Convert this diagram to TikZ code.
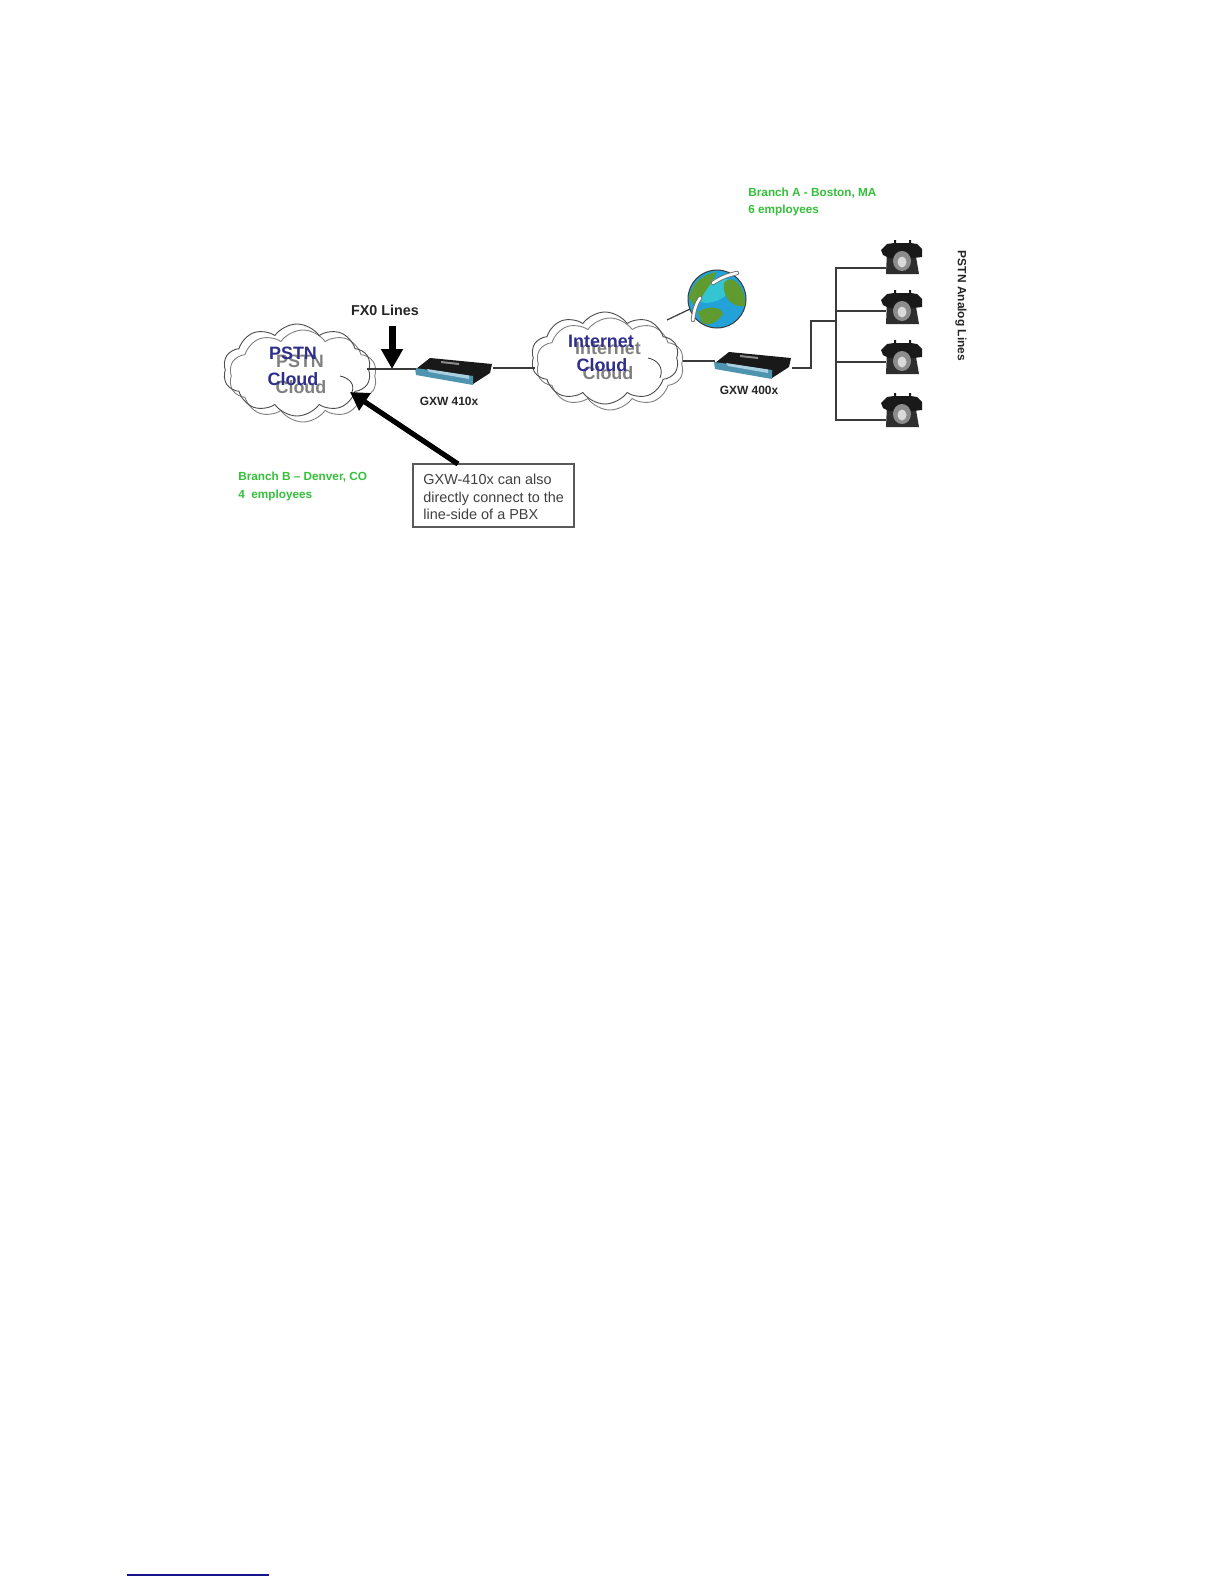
\documentclass[tikz,border=0pt]{standalone}
\usepackage{fontspec}
\setmainfont{Liberation Sans}
\usetikzlibrary{shapes.symbols,arrows.meta}
\definecolor{linegray}{HTML}{3A3A3A}
\definecolor{cloudblue}{HTML}{2E2E8C}
\definecolor{branchgreen}{HTML}{35C03A}
\definecolor{frontblue}{HTML}{4F94AE}
\definecolor{frontlight}{HTML}{A9CFE0}
\definecolor{seablue}{HTML}{22A2D8}
\definecolor{seacyan}{HTML}{33C6D2}
\definecolor{landgreen}{HTML}{5F9B2F}
\definecolor{footblue}{HTML}{14148C}
\newcommand{\fs}[1]{\fontsize{#1}{#1}\selectfont}
\tikzset{
  x=0.5bp,y=-0.5bp,
  link/.style={draw=linegray,line width=0.6bp},
  cloudfront/.style={cloud,draw=black!70,line width=0.45bp,cloud puffs=10,cloud puff arc=110,cloud ignores aspect,minimum width=74bp,minimum height=46bp,inner sep=0pt},
  cloudback/.style={cloudfront,draw=gray,fill=white,shape border rotate=18},
  cloudtxt/.style={font=\bfseries\fs{9},text=cloudblue,align=center,inner sep=0pt},
  cloudshadow/.style={font=\bfseries\fs{9},text=gray,align=center,inner sep=0pt},
  caption/.style={font=\bfseries\fs{6},text=black!85,inner sep=0pt},
  branch/.style={font=\bfseries\fs{5.9},text=branchgreen,align=left,inner sep=0pt,anchor=west},
  slot/.style={minimum width=1bp,minimum height=1bp,inner sep=0pt},
  inner/.style={draw=linegray,line width=0.4bp},
  router/.pic={
    \fill[black!90] (-33,1) -- (-19,-10) -- (43,-4) -- (41,5) -- (24,16) -- (22,9) -- cycle;
    \fill[frontblue] (-34,0) -- (24,8) -- (24,17) -- (-33,7) -- cycle;
    \fill[frontlight] (-22,1) -- (20,7.5) -- (20,11) -- (-20,4) -- cycle;
    \fill[black!45] (-8,-7) -- (10,-5) -- (10,-3) -- (-8,-5) -- cycle;
  },
  phone/.pic={
    \fill[black!82] (-14,-6) -- (14,-6) -- (18,17) -- (-15,17) -- cycle;
    \fill[black!90] (-20,-7) -- (-14,-13) -- (-7,-14) -- (-7,-17) -- (-5,-17) -- (-5,-14) -- (8,-14) -- (8,-17) -- (10,-17) -- (10,-14) -- (16,-13) -- (21,-8) -- (21,0) -- (12,1) -- (-12,1) -- (-18,-2) -- cycle;
    \fill[black!45] (1,4) circle[x radius=9,y radius=10];
    \fill[black!15] (1,5) circle[x radius=4.5,y radius=5.5];
  }
}
\begin{document}
\begin{tikzpicture}
\useasboundingbox (0,0) rectangle (1224,1584);
\fill[white] (0,0) rectangle (1224,1584);

% clouds
\node[cloudback] (pstnback) at (303,376) {};
\node[cloudfront] (pstn) at (297,370) {};
\node[cloudshadow] (pstnshadowa) at (300,361) {PSTN};
\node[cloudshadow] (pstnshadowb) at (301,387) {Cloud};
\node[cloudtxt] (pstntexta) at (293,353) {PSTN};
\node[cloudtxt] (pstntextb) at (293,379) {Cloud};
\draw[inner] (340,376) .. controls (350,378) and (355,385) .. (352,392);

\node[cloudback] (netback) at (610,364) {};
\node[cloudfront] (net) at (605,358) {};
\node[cloudshadow] (netshadowa) at (608,348) {Internet};
\node[cloudshadow] (netshadowb) at (608,373) {Cloud};
\node[cloudtxt] (nettexta) at (601,341) {Internet};
\node[cloudtxt] (nettextb) at (602,365) {Cloud};
\draw[inner] (648,358) .. controls (658,360) and (664,368) .. (660,378);

% devices
\node[slot] (gxwa) at (449,366) {};
\pic at (449,368) {router};
\node[caption] (gxwalabel) at (449,401) {GXW 410x};
\node[slot] (gxwb) at (748,360) {};
\pic at (748,362) {router};
\node[caption] (gxwblabel) at (749,390) {GXW 400x};

% globe
\node[circle,draw=linegray,fill=seablue,line width=0.5bp,minimum width=29bp,inner sep=0pt] (globe) at (717,299) {};
\fill[seacyan] (696,300) .. controls (700,278) and (725,272) .. (736,285) .. controls (728,298) and (708,308) .. (696,300) -- cycle;
\fill[landgreen] (689,298) .. controls (692,283) and (702,275) .. (716,272) .. controls (714,284) and (702,290) .. (697,310) -- cycle;
\fill[landgreen] (724,283) .. controls (733,272) and (746,288) .. (745,306) .. controls (735,308) and (722,300) .. (724,283) -- cycle;
\fill[landgreen] (698,312) .. controls (708,305) and (722,307) .. (723,314) .. controls (716,324) and (708,326) .. (702,323) -- cycle;
\draw[black!55,line width=2.2bp,line cap=round] (693,320) .. controls (694,310) and (696,304) .. (700,298);
\draw[white,line width=1.3bp,line cap=round] (693,320) .. controls (694,310) and (696,304) .. (700,298);
\draw[black!55,line width=2.2bp,line cap=round] (713,283) .. controls (720,278) and (728,275) .. (737,273);
\draw[white,line width=1.3bp,line cap=round] (713,283) .. controls (720,278) and (728,275) .. (737,273);

% phones
\foreach \nm/\py/\ly in {a/257/268,b/307/311,c/357/362,d/410/420}{
  \node[slot] (phone\nm) at (886,\ly) {};
  \pic at (901,\py) {phone};
}

% connectors
\coordinate (pstnout) at (367,369);
\coordinate (netin) at (535,368);
\coordinate (netglobe) at (667,320);
\coordinate (netout) at (683,361);
\coordinate (gxwaleft) at (416,369);
\coordinate (gxwaright) at (493,368);
\coordinate (gxwbleft) at (715,361);
\coordinate (gxwbright) at (792,368);
\coordinate (globeleft) at (690,309);
\coordinate (elbowa) at (811,368);
\coordinate (elbowb) at (811,321);
\coordinate (trunk) at (836,321);
\coordinate (trunktop) at (836,268);
\coordinate (trunkb) at (836,311);
\coordinate (trunkc) at (836,362);
\coordinate (trunkbot) at (836,420);
\draw[link] (pstnout) -- (gxwaleft);
\draw[link] (gxwaright) -- (netin);
\draw[link] (netglobe) -- (globeleft);
\draw[link] (netout) -- (gxwbleft);
\draw[link] (gxwbright) -- (elbowa) -- (elbowb) -- (trunk);
\draw[link] (phonea.center) -- (trunktop) -- (trunkbot) -- (phoned.center);
\draw[link] (trunkb) -- (phoneb.center);
\draw[link] (trunkc) -- (phonec.center);

% labels
\node[font=\bfseries\fs{7.2},text=black!85,inner sep=0pt] (fxo) at (385,310) {FX0 Lines};
\coordinate (fxotop) at (392,326);
\coordinate (fxotip) at (392,369);
\draw[line width=3.5bp,-{Triangle[length=10bp,width=10.5bp]}] (fxotop) -- (fxotip);

\node[draw=black!65,line width=0.6bp,minimum width=80.5bp,minimum height=31.5bp,inner sep=0pt] (note) at (493.5,495.5) {};
\node[font=\fontsize{7.25}{8.75}\selectfont,text=black!75,align=left,anchor=west,inner sep=0pt] (notetext) at (423,497) {GXW-410x can also\\directly connect to the\\line-side of a PBX};
\coordinate (notetop) at (458,464);
\coordinate (pstnpoint) at (350,392);
\draw[line width=2.6bp,-{Triangle[length=9bp,width=10bp]}] (notetop) -- (pstnpoint);

\node[branch] (brancha) at (748,193) {Branch A - Boston, MA};
\node[branch] (branchaa) at (748,210) {6 employees};
\node[branch] (branchb) at (238,477) {Branch B – Denver, CO};
\node[branch] (branchbb) at (238,495) {4\ \ employees};
\node[caption,rotate=-90] (analog) at (961,306) {PSTN Analog Lines};

% footnote rule
\coordinate (footl) at (127,1575);
\coordinate (footr) at (269,1575);
\draw[footblue,line width=0.6bp] (footl) -- (footr);
\end{tikzpicture}
\end{document}
